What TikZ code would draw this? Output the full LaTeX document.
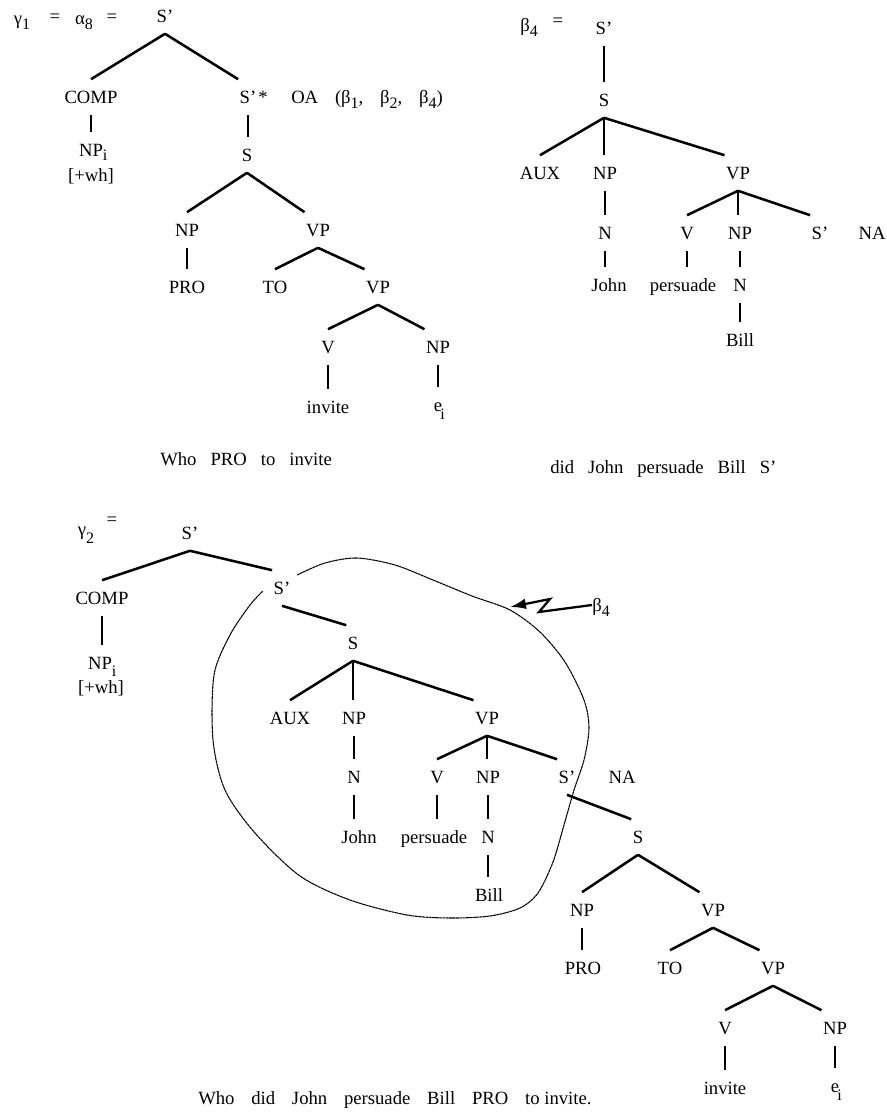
\documentclass[tikz,border=0pt]{standalone}
\usepackage{fontspec}
\setmainfont{Liberation Serif}
\usetikzlibrary{arrows.meta}
% lowered index digit / letter
\newcommand{\lsub}[2][-0.6ex]{\raisebox{#1}{\fontsize{12}{12}\selectfont #2}}
\begin{document}
\begin{tikzpicture}[x=0.75pt,y=-0.75pt,
  lab/.style={font=\fontsize{14}{16}\selectfont, text height=9.3pt, text depth=0pt,
              inner xsep=1pt, inner ysep=8.5pt},
  txt/.style={font=\fontsize{14}{16}\selectfont, text height=9.3pt, text depth=0pt, inner sep=0pt},
  branch/.style={line width=1.9pt},
  halo/.style={line width=0.8pt, dash pattern=on 2.2pt off 0.35pt}]
\useasboundingbox (0,0) rectangle (887,1117);

% ---------------- gamma_1 = alpha_8 ----------------
\node[txt] (g1) at (22,18) {γ\lsub{1}};
\node[txt] (g1eq) at (55,16) {=};
\node[txt] (a8) at (84,18) {α\lsub{8}};
\node[txt] (a8eq) at (112,16) {=};

\node[lab] (aTop) at (165,16) {S'};
\node[lab] (aComp) at (91,97) {COMP};
\node[lab] (aSb) at (248,97) {S'};
\node[txt] (aStar) at (263,97) {*};
\node[txt, anchor=west] (aOA) at (291,97)
  {OA\hspace{0.9em}(β\lsub{1},\hspace{0.9em}β\lsub{2},\hspace{0.9em}β\lsub{4})};
\node[lab] (aNPi) at (91,150) {NP\rlap{\lsub[-0.5ex]{i}}};
\node[txt] (aWh) at (91,175) {[+wh]};
\node[lab] (aS) at (247,155) {S};
\node[lab] (aNP) at (187,230) {NP};
\node[lab] (aVP) at (318,230) {VP};
\node[lab] (aPRO) at (187,287) {PRO};
\node[lab] (aTO) at (275,287) {TO};
\node[lab] (aVP2) at (378,287) {VP};
\node[lab] (aV) at (328,347) {V};
\node[lab] (aNP2) at (438,347) {NP};
\node[lab] (aInv) at (328,407) {invite};
\node[lab] (aE) at (438,405) {e\rlap{\kern-0.1em\lsub[-1.0ex]{i}}};

\draw[branch] (aTop.south) -- (aComp.north);
\draw[branch] (aTop.south) -- (aSb.north west);
\draw[branch] (aComp.south) -- (aComp.south |- aNPi.north);
\draw[branch] (aSb.south) -- (aSb.south |- aS.north);
\draw[branch] (aS.south) -- (aNP.north);
\draw[branch] (aS.south) -- (aVP.north west);
\draw[branch] (aNP.south) -- (aNP.south |- aPRO.north);
\draw[branch] (aVP.south) -- (aTO.north);
\draw[branch] (aVP.south) -- (aVP2.north west);
\draw[branch] (aVP2.south) -- (aV.north);
\draw[branch] (aVP2.south) -- (aNP2.north west);
\draw[branch] (aV.south) -- (aV.south |- aInv.north);
\draw[branch] (aNP2.south) -- (aNP2.south |- aE.north);

\node[txt, anchor=west] (capA) at (160,459)
  {Who\hspace{0.75em}PRO\hspace{0.75em}to\hspace{0.75em}invite};

% ---------------- beta_4 ----------------
\node[txt] (b4) at (529,25) {β\lsub{4}};
\node[txt] (b4eq) at (558,20) {=};

\node[lab] (bTop) at (604,28) {S'};
\node[lab] (bS) at (604,100) {S};
\node[lab] (bAux) at (540,173) {AUX};
\node[lab] (bNP) at (605,173) {NP};
\node[lab] (bVP) at (738,173) {VP};
\node[lab] (bN) at (605,233) {N};
\node[lab] (bV) at (687,233) {V};
\node[lab] (bNP2) at (740,233) {NP};
\node[lab] (bSb) at (820,233) {S'};
\node[txt] (bNA) at (872,233) {NA};
\node[lab] (bJohn) at (609,285) {John};
\node[lab] (bPers) at (683,285) {persuade};
\node[lab] (bN2) at (740,285) {N};
\node[lab] (bBill) at (740,340) {Bill};

\draw[branch] (bTop.south) -- (bTop.south |- bS.north);
\draw[branch] (bS.south) -- (bAux.north);
\draw[branch] (bS.south) -- (bS.south |- bNP.north);
\draw[branch] (bS.south) -- (bVP.north west);
\draw[branch] (bNP.south) -- (bNP.south |- bN.north);
\draw[branch] (bN.south) -- (bN.south |- bJohn.north);
\draw[branch] (bVP.south) -- (bV.north);
\draw[branch] (bVP.south) -- (bVP.south |- bNP2.north);
\draw[branch] (bVP.south) -- (bSb.north west);
\draw[branch] (bV.south) -- (bV.south |- bPers.north);
\draw[branch] (bNP2.south) -- (bNP2.south |- bN2.north);
\draw[branch] (bN2.south) -- (bN2.south |- bBill.north);

\node[txt, anchor=west] (capB) at (550,467)
  {did\hspace{0.75em}John\hspace{0.75em}persuade\hspace{0.75em}Bill\hspace{0.75em}S'};

% ---------------- gamma_2 ----------------
\node[txt] (g2) at (86,529) {γ\lsub[-1.0ex]{2}};
\node[txt] (g2eq) at (112,519) {=};

\node[lab] (cTop) at (190,533) {S'};
\node[lab] (cComp) at (102,598) {COMP};
\node[lab] (cNPi) at (100,663) {NP\rlap{\lsub[-0.9ex]{i}}};
\node[txt] (cWh) at (101,687) {[+wh]};
\node[lab] (cSa) at (282,588) {S'};
\node[lab] (cS) at (353,643) {S};
\node[lab] (cAux) at (290,718) {AUX};
\node[lab] (cNP) at (354,718) {NP};
\node[lab] (cVP) at (487,718) {VP};
\node[lab] (cN) at (354,777) {N};
\node[lab] (cV) at (437,777) {V};
\node[lab] (cNP2) at (488,777) {NP};
\node[lab] (cSb) at (567,777) {S'};
\node[txt] (cNA) at (622,777) {NA};
\node[lab] (cJohn) at (359,837) {John};
\node[lab] (cPers) at (434,837) {persuade};
\node[lab] (cN2) at (488,837) {N};
\node[lab] (cBill) at (489,895) {Bill};
\node[lab] (cS2) at (638,837) {S};
\node[lab] (cNP3) at (582,910) {NP};
\node[lab] (cVP3) at (713,910) {VP};
\node[lab] (cPRO) at (583,968) {PRO};
\node[lab] (cTO) at (670,968) {TO};
\node[lab] (cVP4) at (773,968) {VP};
\node[lab] (cV2) at (725,1028) {V};
\node[lab] (cNP4) at (835,1028) {NP};
\node[lab] (cInv) at (725,1088) {invite};
\node[lab] (cE) at (835,1086) {e\rlap{\kern-0.1em\lsub[-1.0ex]{i}}};

\draw[branch] (cTop.south) -- (cComp.north);
\draw[branch] (cTop.south) -- (cSa.north west);
\draw[branch] (cComp.south) -- (cComp.south |- cNPi.north);
\draw[branch] (cSa.south) -- (cS.north west);
\draw[branch] (cS.south) -- (cAux.north);
\draw[branch] (cS.south) -- (cS.south |- cNP.north);
\draw[branch] (cS.south) -- (cVP.north west);
\draw[branch] (cNP.south) -- (cNP.south |- cN.north);
\draw[branch] (cN.south) -- (cN.south |- cJohn.north);
\draw[branch] (cVP.south) -- (cV.north);
\draw[branch] (cVP.south) -- (cVP.south |- cNP2.north);
\draw[branch] (cVP.south) -- (cSb.north west);
\draw[branch] (cV.south) -- (cV.south |- cPers.north);
\draw[branch] (cNP2.south) -- (cNP2.south |- cN2.north);
\draw[branch] (cN2.south) -- (cN2.south |- cBill.north);
\draw[branch] (cSb.south) -- (cS2.north west);
\draw[branch] (cS2.south) -- (cNP3.north);
\draw[branch] (cS2.south) -- (cVP3.north west);
\draw[branch] (cNP3.south) -- (cNP3.south |- cPRO.north);
\draw[branch] (cVP3.south) -- (cTO.north);
\draw[branch] (cVP3.south) -- (cVP4.north west);
\draw[branch] (cVP4.south) -- (cV2.north);
\draw[branch] (cVP4.south) -- (cNP4.north west);
\draw[branch] (cV2.south) -- (cV2.south |- cInv.north);
\draw[branch] (cNP4.south) -- (cNP4.south |- cE.north);

% outline around the adjoined beta_4 subtree
\draw[halo] plot[smooth] coordinates {
  (297,575) (325,563) (357,558) (395,565) (433,580) (472,596) (510,610)
  (540,632) (565,662) (584,700) (589,728) (584,760) (574,790) (564,825)
  (553,862) (538,893) (520,908) (490,916) (450,918) (407,915) (350,900)
  (300,876) (255,833) (225,790) (213,740) (214,675) (230,635) (250,605) (263,591)};

% pointer to the outline
\node[txt, anchor=west] (cB4) at (592,605) {β\lsub{4}};
\coordinate (cTip) at (510,607);
\draw[line width=1.7pt, -{Latex[length=12pt,width=8pt]}]
  (cB4.west) -- (539,612) -- (550,599) -- (cTip);

\node[txt, anchor=west] (capC) at (198,1098)
  {Who\hspace{0.9em}did\hspace{0.9em}John\hspace{0.9em}persuade\hspace{0.9em}Bill\hspace{0.9em}PRO\hspace{0.9em}to invite.};

\end{tikzpicture}
\end{document}
